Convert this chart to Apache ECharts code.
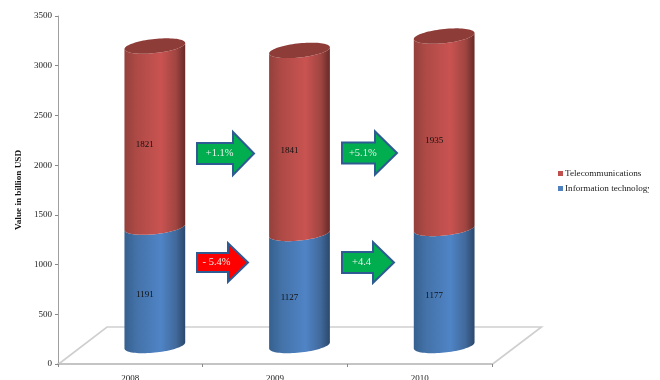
<!DOCTYPE html>
<html>
<head>
<meta charset="utf-8">
<style>html,body{margin:0;padding:0;background:#fff}#chart{width:660px;height:380px}</style>
<script src="https://cdn.jsdelivr.net/npm/echarts@6/dist/echarts.min.js"></script>
</head>
<body>
<div id="chart"></div>
<script>
// Market value by year, in billion USD
const years = ['2008', '2009', '2010'];
const infoTech = [1191, 1127, 1177];
const telecom = [1821, 1841, 1935];
const yTicksMax = 3500;
const yTickStep = 500;

// Year-on-year change shown on the arrows between cylinders
const telecomChanges = ['+1.1%', '+5.1%'];
const infoTechChanges = ['- 5.4%', '+4.4'];

const SERIF = '"Liberation Serif", "Times New Roman", serif';
const DEPTH_X = 24.5, DEPTH_Y = -18.5;   // shift of the cylinders onto the floor
const TILT = 0.1, RY = 7.1;              // ellipse shape of the cylinder ends

function ellipseArc(cx, cy, r, from, to, steps) {
  const pts = [];
  for (let i = 0; i <= steps; i++) {
    const t = from + (to - from) * i / steps;
    pts.push([cx + r * Math.cos(t), cy + RY * Math.sin(t) - TILT * r * Math.cos(t)]);
  }
  return pts;
}

function sideGradient(stops) {
  return { type: 'linear', x: 0, y: 0, x2: 1, y2: 0, colorStops: stops };
}

const blueSide = sideGradient([
  { offset: 0, color: '#35608f' }, { offset: 0.2, color: '#4472a8' },
  { offset: 0.6, color: '#4f84c6' }, { offset: 0.85, color: '#41699b' },
  { offset: 1, color: '#2b486c' }
]);
const redSide = sideGradient([
  { offset: 0, color: '#94403c' }, { offset: 0.2, color: '#ae4a46' },
  { offset: 0.6, color: '#c95351' }, { offset: 0.85, color: '#a04541' },
  { offset: 1, color: '#672a28' }
]);

function cylinder(side, capColor) {
  return function (params, api) {
    const base = api.value(1), top = api.value(2);
    const p0 = api.coord([api.value(0), base]);
    const p1 = api.coord([api.value(0), top]);
    const r = api.size([1, 0])[0] * 0.21;
    const cx = p0[0] + DEPTH_X;
    const y0 = p0[1] + DEPTH_Y, y1 = p1[1] + DEPTH_Y;
    // Front half of the lower end, then front half of the upper end reversed
    const pts = ellipseArc(cx, y0, r, 0, Math.PI, 40)
      .concat(ellipseArc(cx, y1, r, Math.PI, 0, 40));
    const children = [{ type: 'polygon', shape: { points: pts }, style: { fill: side } }];
    if (capColor) {
      children.push({
        type: 'polygon',
        shape: { points: ellipseArc(cx, y1, r, 0, Math.PI * 2, 80) },
        style: { fill: capColor }
      });
    }
    children.push({
      type: 'text',
      style: {
        text: String(top - base), x: cx - 10, y: (y0 + y1) / 2 + 8.5,
        fill: '#111', font: '9px ' + SERIF, align: 'center', verticalAlign: 'middle'
      }
    });
    return { type: 'group', children: children };
  };
}

function arrow(label, fill, x0, x1, xh, yc, head, tail) {
  return [{
    type: 'polygon', z: 5,
    shape: { points: [[x0, yc - tail], [xh, yc - tail], [xh, yc - head], [x1, yc], [xh, yc + head], [xh, yc + tail], [x0, yc + tail]] },
    style: { fill: fill, stroke: '#2f5b93', lineWidth: 2 }
  }, {
    type: 'text', z: 6,
    style: {
      text: label, x: x0 + (xh - x0) * 0.63, y: yc, fill: '#e8f2ea',
      font: '10.5px ' + SERIF, align: 'center', verticalAlign: 'middle'
    }
  }];
}

const infoData = years.map((y, i) => [i, 0, infoTech[i]]);
const telecomData = years.map((y, i) => [i, infoTech[i], infoTech[i] + telecom[i]]);

const chart = echarts.init(document.getElementById('chart'), null, { renderer: 'canvas' });
chart.setOption({
  animation: false,
  backgroundColor: '#fff',
  grid: { left: 58, right: 168, top: 16, bottom: 16, outerBoundsMode: 'none' },
  legend: {
    orient: 'vertical', left: 558, top: 169, padding: 0,
    data: ['Telecommunications', 'Information technology'],
    icon: 'rect', itemWidth: 5, itemHeight: 5, itemGap: 6,
    textStyle: { fontFamily: SERIF, fontSize: 9.2, color: '#222', padding: [0, 0, 0, -3] }
  },
  xAxis: {
    type: 'category', data: years,
    axisLine: { lineStyle: { color: '#c4c4c4', width: 2 } },
    axisTick: { show: true, length: 3, lineStyle: { color: '#888' } },
    axisLabel: { fontFamily: SERIF, fontSize: 9, color: '#222', margin: 10 }
  },
  yAxis: {
    type: 'value', min: 0, max: yTicksMax, interval: yTickStep,
    name: 'Value in billion USD', nameLocation: 'middle', nameGap: 33,
    nameTextStyle: { fontFamily: SERIF, fontSize: 9.2, fontWeight: 'bold', color: '#111' },
    splitLine: { show: false },
    axisLine: { show: true, lineStyle: { color: '#a0a0a0' } },
    axisTick: { show: true, length: 3, lineStyle: { color: '#888' } },
    axisLabel: { fontFamily: SERIF, fontSize: 9, color: '#222', margin: 6, formatter: v => String(v) }
  },
  series: [
    {
      name: 'Information technology', type: 'custom', z: 3, clip: false,
      itemStyle: { color: '#4f81bd' }, encode: { x: 0, y: [1, 2] },
      renderItem: cylinder(blueSide, null), data: infoData
    },
    {
      name: 'Telecommunications', type: 'custom', z: 4, clip: false,
      itemStyle: { color: '#c0504d' }, encode: { x: 0, y: [1, 2] },
      renderItem: cylinder(redSide, '#8e3c38'), data: telecomData
    }
  ],
  graphic: [
    // Floor of the plot behind the cylinders
    {
      type: 'polyline', z: 0,
      shape: { points: [[58, 364.5], [107, 327], [541.5, 327], [492, 364.5]] },
      style: { fill: null, stroke: '#cfcfcf', lineWidth: 1.6 }
    },
    ...arrow(telecomChanges[0], '#00ae50', 197, 254, 233, 153.5, 21.5, 10.5),
    ...arrow(telecomChanges[1], '#00ae50', 342, 397, 375, 153, 21.5, 10.5),
    ...arrow(infoTechChanges[0], '#fe0000', 197, 248, 228, 262.5, 19.5, 9.5),
    ...arrow(infoTechChanges[1], '#00ae50', 342, 394, 373, 262.5, 20.5, 10.5),
    // Right margin beyond the drawing area
    { type: 'rect', z: 100, shape: { x: 649, y: 0, width: 11, height: 380 }, style: { fill: '#fff' } }
  ]
});
</script>
</body>
</html>
